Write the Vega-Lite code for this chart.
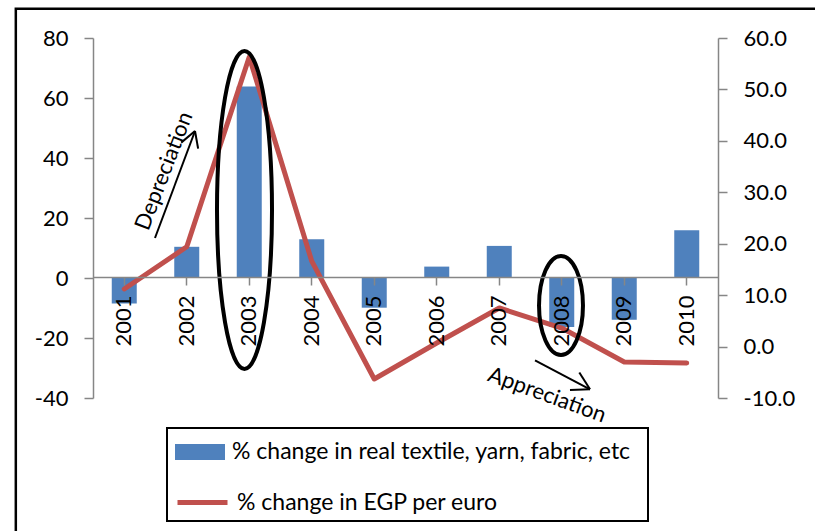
{
  "$schema": "https://vega.github.io/schema/vega-lite/v6.json",
  "width": 625,
  "height": 360,
  "autosize": {"type": "none"},
  "padding": {"left": 93, "top": 38, "right": 97, "bottom": 133},
  "background": "white",
  "config": {
    "view": {"stroke": null},
    "font": "Lato",
    "axis": {
      "labelFont": "Lato",
      "labelFontSize": 22,
      "labelColor": "black",
      "domainColor": "#868686",
      "tickColor": "#868686",
      "domainWidth": 1.5,
      "tickWidth": 1.5,
      "grid": false,
      "title": null
    },
    "legend": {"labelFont": "Lato", "labelColor": "black"}
  },
  "datasets": {
    "main": [
      {"year": "2001", "textile": -8.5, "egp": 11.2},
      {"year": "2002", "textile": 10.4, "egp": 19.4},
      {"year": "2003", "textile": 63.8, "egp": 56.3},
      {"year": "2004", "textile": 12.9, "egp": 16.6},
      {"year": "2005", "textile": -9.9, "egp": -6.3},
      {"year": "2006", "textile": 3.8, "egp": 0.7},
      {"year": "2007", "textile": 10.7, "egp": 7.5},
      {"year": "2008", "textile": -16.3, "egp": 3.6},
      {"year": "2009", "textile": -13.9, "egp": -3.0},
      {"year": "2010", "textile": 15.9, "egp": -3.2}
    ],
    "segments": [
      {"x": 2001.492, "y": 13.33, "x2": 2002.132, "y2": 49},
      {"x": 2001.911, "y": 45.13, "x2": 2002.132, "y2": 49},
      {"x": 2002.182, "y": 43.1, "x2": 2002.132, "y2": 49},
      {"x": 2007.572, "y": -27.43, "x2": 2008.452, "y2": -37.1},
      {"x": 2008.281, "y": -31.47, "x2": 2008.452, "y2": -37.1},
      {"x": 2008.132, "y": -37.33, "x2": 2008.452, "y2": -37.1}
    ],
    "frame": [{"x": 1999.265, "x2": 2012.3, "y": 89.73, "y2": -95}],
    "legendbox": [{"x": 2001.684, "x2": 2009.38, "y": -50, "y2": -81}],
    "ring2003": [{"x": 2002.924, "y": 22.7}],
    "ring2008": [{"x": 2007.988, "y": -9.17}]
  },
  "layer": [
    {
      "data": {"name": "frame"},
      "mark": {"type": "rect", "fill": null, "stroke": "black", "strokeWidth": 2.5},
      "encoding": {
        "x": {"field": "x", "type": "quantitative", "scale": {"domain": [2000.5, 2010.5], "nice": false, "zero": false}, "axis": null},
        "x2": {"field": "x2"},
        "y": {"field": "y", "type": "quantitative", "scale": {"domain": [-40, 80], "nice": false, "zero": false}, "axis": null},
        "y2": {"field": "y2"}
      }
    },
    {
      "data": {"name": "main"},
      "mark": {"type": "bar"},
      "encoding": {
        "x": {
          "field": "year", "type": "ordinal",
          "scale": {"type": "band", "paddingInner": 0.6, "paddingOuter": 0.3},
          "axis": {
            "orient": "bottom", "offset": -121, "tickSize": 8, "labelAngle": -90,
            "labelAlign": "right", "labelBaseline": "middle", "labelPadding": 10,
            "zindex": 1, "title": null
          }
        },
        "y": {
          "field": "textile", "type": "quantitative",
          "scale": {"domain": [-40, 80], "nice": false},
          "axis": {"orient": "left", "values": [-40, -20, 0, 20, 40, 60, 80], "tickSize": 9, "labelPadding": 16, "labelExpr": "replace(datum.label, '\u2212', '-')"}
        },
        "fill": {
          "datum": "% change in real textile, yarn, fabric, etc",
          "scale": {"range": ["#4F81BD"]},
          "legend": {
            "orient": "none", "legendX": 82, "legendY": 389, "title": null,
            "symbolType": "M-1,-0.32H1V0.32H-1Z", "symbolSize": 2500,
            "symbolStrokeWidth": 0, "labelFontSize": 23, "labelOffset": 7,
            "labelLimit": 0, "padding": 0
          }
        }
      }
    },
    {
      "data": {"name": "main"},
      "mark": {"type": "line", "strokeWidth": 5, "strokeCap": "round", "strokeJoin": "round"},
      "encoding": {
        "x": {
          "field": "year", "type": "ordinal",
          "scale": {"type": "point", "padding": 0.5},
          "axis": null
        },
        "y": {
          "field": "egp", "type": "quantitative",
          "scale": {"domain": [-10, 60], "nice": false},
          "axis": {"orient": "right", "values": [-10, 0, 10, 20, 30, 40, 50, 60], "format": ".1f", "tickSize": 9, "labelPadding": 16, "labelExpr": "replace(datum.label, '\u2212', '-')"}
        },
        "stroke": {
          "datum": "% change in EGP per euro",
          "scale": {"range": ["#C0504D"]},
          "legend": {
            "orient": "none", "legendX": 82, "legendY": 437, "title": null,
            "symbolType": "stroke", "symbolSize": 2500, "symbolStrokeWidth": 5,
            "labelFontSize": 23, "labelOffset": 7, "labelLimit": 0, "padding": 0
          }
        }
      }
    },
    {
      "data": {"name": "legendbox"},
      "mark": {"type": "rect", "fill": null, "stroke": "black", "strokeWidth": 2},
      "encoding": {
        "x": {"field": "x", "type": "quantitative", "scale": {"domain": [2000.5, 2010.5], "nice": false, "zero": false}, "axis": null},
        "x2": {"field": "x2"},
        "y": {"field": "y", "type": "quantitative", "scale": {"domain": [-40, 80], "nice": false, "zero": false}, "axis": null},
        "y2": {"field": "y2"}
      }
    },
    {
      "data": {"name": "ring2003"},
      "mark": {
        "type": "point", "filled": false, "opacity": 1, "stroke": "black", "strokeWidth": 4, "size": 101124,
        "shape": "M0,-1C0.0955,-1,0.173,-0.5523,0.173,0C0.173,0.5523,0.0955,1,0,1C-0.0955,1,-0.173,0.5523,-0.173,0C-0.173,-0.5523,-0.0955,-1,0,-1Z"
      },
      "encoding": {
        "x": {"field": "x", "type": "quantitative", "scale": {"domain": [2000.5, 2010.5], "nice": false, "zero": false}, "axis": null},
        "y": {"field": "y", "type": "quantitative", "scale": {"domain": [-40, 80], "nice": false, "zero": false}, "axis": null}
      }
    },
    {
      "data": {"name": "ring2008"},
      "mark": {
        "type": "point", "filled": false, "opacity": 1, "stroke": "black", "strokeWidth": 4, "size": 9801,
        "shape": "M0,-1C0.2453,-1,0.444,-0.5523,0.444,0C0.444,0.5523,0.2453,1,0,1C-0.2453,1,-0.444,0.5523,-0.444,0C-0.444,-0.5523,-0.2453,-1,0,-1Z"
      },
      "encoding": {
        "x": {"field": "x", "type": "quantitative", "scale": {"domain": [2000.5, 2010.5], "nice": false, "zero": false}, "axis": null},
        "y": {"field": "y", "type": "quantitative", "scale": {"domain": [-40, 80], "nice": false, "zero": false}, "axis": null}
      }
    },
    {
      "data": {"name": "segments"},
      "mark": {"type": "rule", "stroke": "black", "strokeWidth": 2},
      "encoding": {
        "x": {"field": "x", "type": "quantitative", "scale": {"domain": [2000.5, 2010.5], "nice": false, "zero": false}, "axis": null},
        "x2": {"field": "x2"},
        "y": {"field": "y", "type": "quantitative", "scale": {"domain": [-40, 80], "nice": false, "zero": false}, "axis": null},
        "y2": {"field": "y2"}
      }
    },
    {
      "data": {"values": [{"label": "Depreciation", "x": 2001.636, "y": 35.67}]},
      "mark": {"type": "text", "angle": 291, "fontSize": 22, "font": "Lato", "color": "black", "align": "center", "baseline": "middle"},
      "encoding": {
        "x": {"field": "x", "type": "quantitative", "scale": {"domain": [2000.5, 2010.5], "nice": false, "zero": false}, "axis": null},
        "y": {"field": "y", "type": "quantitative", "scale": {"domain": [-40, 80], "nice": false, "zero": false}, "axis": null},
        "text": {"field": "label"}
      }
    },
    {
      "data": {"values": [{"label": "Appreciation", "x": 2007.764, "y": -39}]},
      "mark": {"type": "text", "angle": 20, "fontSize": 22, "font": "Lato", "color": "black", "align": "center", "baseline": "middle"},
      "encoding": {
        "x": {"field": "x", "type": "quantitative", "scale": {"domain": [2000.5, 2010.5], "nice": false, "zero": false}, "axis": null},
        "y": {"field": "y", "type": "quantitative", "scale": {"domain": [-40, 80], "nice": false, "zero": false}, "axis": null},
        "text": {"field": "label"}
      }
    }
  ],
  "resolve": {"scale": {"x": "independent", "y": "independent", "fill": "independent", "stroke": "independent"}}
}
